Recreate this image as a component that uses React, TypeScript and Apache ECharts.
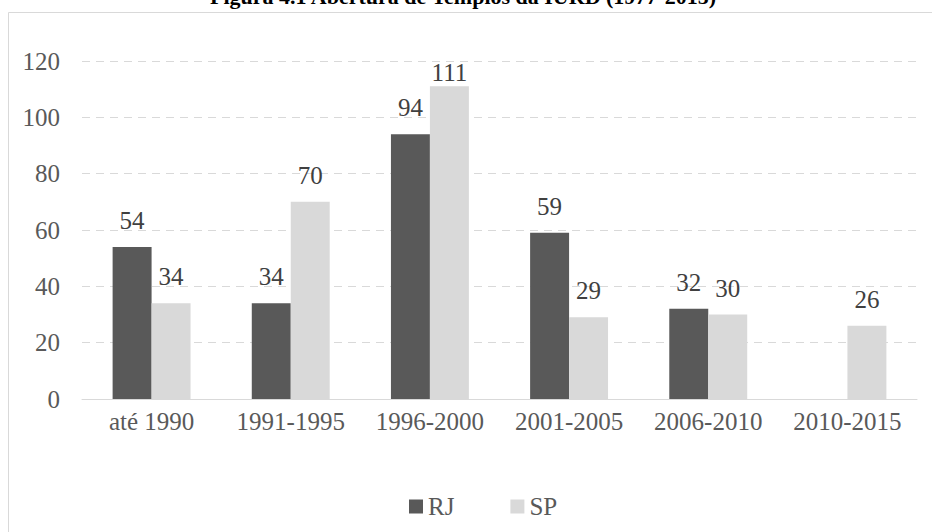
import React, { useEffect, useRef } from "react";
import * as echarts from "echarts";

const categories = ["até 1990", "1991-1995", "1996-2000", "2001-2005", "2006-2010", "2010-2015"];
const rjValues: (number | null)[] = [54, 34, 94, 59, 32, null];
const spValues: (number | null)[] = [34, 70, 111, 29, 30, 26];
const yTicks = { min: 0, max: 120, interval: 20 };
const titleText = "Figura 4.1 Abertura de Templos da IURD (1977-2015)";

export default function App() {
  const ref = useRef<HTMLDivElement>(null);
  useEffect(() => {
    if (!ref.current) return;
    const chart = echarts.init(ref.current, undefined, { renderer: "svg" });
    const font = "Liberation Serif";
    const labelCfg = {
      show: true,
      position: "top" as const,
      fontFamily: font,
      fontSize: 25,
      color: "#404040",
      distance: 14,
    };
    const plotTop = 61;
    const keepInside = (params: any) => {
      const r = params.labelRect;
      if (r && r.y < plotTop - 1) return { dy: plotTop - 1 - r.y };
      return {};
    };
    chart.setOption({
      animation: false,
      backgroundColor: "#ffffff",
      textStyle: { fontFamily: font },
      graphic: [
        {
          type: "rect",
          shape: { x: 8.5, y: 12.5, width: 1000, height: 600 },
          style: { fill: "none", stroke: "#d9d9d9", lineWidth: 1 },
          silent: true,
          z: -10,
        },
        {
          type: "text",
          x: 463,
          y: 7,
          style: {
            text: titleText,
            fontFamily: font,
            fontSize: 22,
            fontWeight: "bold",
            fill: "#000000",
            align: "center",
            verticalAlign: "bottom",
          },
        },
      ],
      legend: {
        left: 404,
        top: 489,
        itemWidth: 14,
        itemHeight: 14,
        itemGap: 56,
        icon: "rect",
        textStyle: { fontFamily: font, fontSize: 25, color: "#595959" },
        data: ["RJ", "SP"],
      },
      grid: { left: 82, right: 15, top: plotTop, bottom: 133, containLabel: false },
      xAxis: {
        type: "category",
        data: categories,
        axisLine: { lineStyle: { color: "#d9d9d9", width: 1 } },
        axisTick: { show: false },
        axisLabel: { fontFamily: font, fontSize: 25, color: "#595959", margin: 10, interval: 0 },
      },
      yAxis: {
        type: "value",
        min: yTicks.min,
        max: yTicks.max,
        interval: yTicks.interval,
        axisLine: { show: false },
        axisTick: { show: false },
        axisLabel: { fontFamily: font, fontSize: 25, color: "#595959", margin: 22 },
        splitLine: { lineStyle: { color: "#d9d9d9", type: [8, 6], width: 1 } },
      },
      series: [
        {
          name: "RJ",
          type: "bar",
          data: rjValues,
          barGap: "0%",
          barCategoryGap: "44%",
          itemStyle: { color: "#595959" },
          label: labelCfg,
          labelLayout: keepInside,
        },
        {
          name: "SP",
          type: "bar",
          data: spValues,
          barGap: "0%",
          barCategoryGap: "44%",
          itemStyle: { color: "#d9d9d9" },
          label: labelCfg,
          labelLayout: keepInside,
        },
      ],
    });
    return () => chart.dispose();
  }, []);
  return (
    <div
      ref={ref}
      style={{ position: "fixed", left: 0, top: 0, width: 932, height: 532, background: "#fff" }}
    />
  );
}
